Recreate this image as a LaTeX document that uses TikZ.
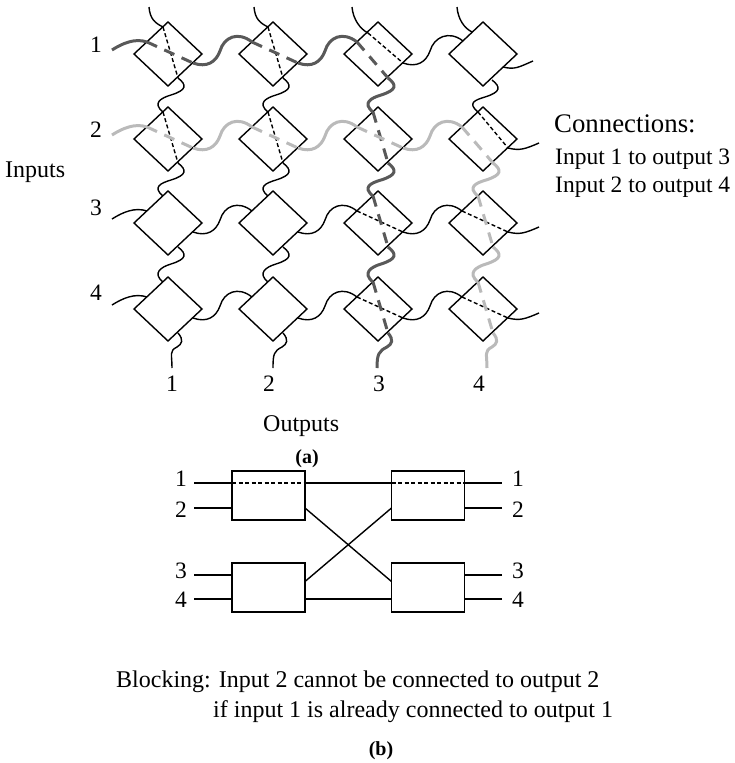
\documentclass[tikz,border=0pt]{standalone}
\usepackage{fontspec}
\setmainfont{Liberation Serif}
\usetikzlibrary{calc,shapes.geometric}

\newcommand{\hwire}[3]{\draw[#1] (#2) .. controls +(14,5) and +(-4,11) .. ($(#2)+(27,-12)$) .. controls +(4,-14) and +(-14,-11) .. (#3);}
\newcommand{\vwire}[3]{\draw[#1] (#2) .. controls +(9,7) and +(16,-5) .. ($(#2)+(-7,17)$) .. controls +(-10,3) and +(-11,-9) .. (#3);}
\newcommand{\leadwire}[3]{\draw[#1] (#2) .. controls +(11,-7) and +(-12,-4) .. (#3);}
\newcommand{\tailwire}[3]{\draw[#1] (#2) .. controls +(12,3) and +(-14,6) .. (#3);}
\newcommand{\capwire}[2]{\draw[wirethin] (#1) .. controls +(1,12) and +(-8,-4) .. (#2);}
\newcommand{\footwire}[3]{\draw[#1] (#2) .. controls +(6,7) and +(5,-3) .. ($(#2)+(-1,14)$) .. controls +(-8,4) and +(0,-14) .. (#3);}

\tikzset{
  switchbox/.style={draw,diamond,aspect=1.06,minimum width=68pt,minimum height=64pt,inner sep=0pt,outer sep=0pt,line width=1.4pt},
  stagebox/.style={draw,rectangle,minimum width=73pt,minimum height=49pt,inner sep=0pt,outer sep=0pt,line width=1.4pt},
  wirethin/.style={line width=1.4pt,black},
  wiredark/.style={line width=3pt,black!65},
  wirelight/.style={line width=3pt,black!27},
  thindash/.style={line width=1.4pt,black,dash pattern=on 4pt off 2.5pt},
  darkdash/.style={wiredark,dash pattern=on 11pt off 8pt},
  lightdash/.style={wirelight,dash pattern=on 11pt off 8pt},
  lab/.style={font=\fontsize{23.5}{26}\selectfont,inner sep=0pt},
  small/.style={font=\fontsize{24}{26}\selectfont,inner sep=0pt,anchor=base west},
  capt/.style={font=\fontsize{20}{22}\selectfont\bfseries,inner sep=0pt,anchor=base}
}

\begin{document}
\begin{tikzpicture}[x=1pt,y=-1pt]
  \useasboundingbox (0,0) rectangle (735,763);

  % switch grid
  \foreach \r/\ypos in {1/54,2/139,3/223,4/309}
    \foreach \c/\xpos in {1/168,2/273,3/378,4/483} {
      \node[switchbox] (s\r\c) at (\xpos,\ypos) {};
      \coordinate (in\r\c) at ($(s\r\c)+(-21,-12)$);
      \coordinate (out\r\c) at ($(s\r\c)+(25,9)$);
      \coordinate (top\r\c) at ($(s\r\c)+(-5,-27)$);
      \coordinate (bot\r\c) at ($(s\r\c)+(10,24)$);
    }
  \coordinate (in14) at ($(s14)+(-20,-13)$);
  \coordinate (out14) at ($(s14)+(20,13)$);
  \coordinate (top13) at ($(s13)+(-10,-21)$);
  \coordinate (top14) at ($(s14)+(-11,-22)$);
  \coordinate (bot14) at ($(s14)+(9,26)$);

  % free ends
  \foreach \r in {1,2,3,4} {
    \coordinate (lead\r) at ($(s\r1)+(-56,-4)$);
    \coordinate (tail\r) at ($(s\r4)+(56,4)$);
  }
  \coordinate (tail1) at ($(s14)+(50,7)$);
  \coordinate (cap1) at ($(s11)+(-19,-47)$);
  \coordinate (cap2) at ($(s12)+(-19,-47)$);
  \coordinate (cap3) at ($(s13)+(-26,-47)$);
  \coordinate (cap4) at ($(s14)+(-26,-47)$);
  \coordinate (foot1) at ($(s41)+(4,59)$);
  \coordinate (foot2) at ($(s42)+(0,59)$);
  \coordinate (foot3) at ($(s43)+(-1,59)$);
  \coordinate (foot4) at ($(s44)+(4,59)$);

  \foreach \c in {1,2,3,4} {
    \capwire{cap\c}{top1\c}
  }

  % horizontal links
  \leadwire{wiredark}{lead1}{in11}
  \leadwire{wirelight}{lead2}{in21}
  \leadwire{wirethin}{lead3}{in31}
  \leadwire{wirethin}{lead4}{in41}
  \hwire{wiredark}{out11}{in12}
  \hwire{wiredark}{out12}{in13}
  \hwire{wirethin}{out13}{in14}
  \hwire{wirelight}{out21}{in22}
  \hwire{wirelight}{out22}{in23}
  \hwire{wirelight}{out23}{in24}
  \foreach \r in {3,4} {
    \hwire{wirethin}{out\r1}{in\r2}
    \hwire{wirethin}{out\r2}{in\r3}
    \hwire{wirethin}{out\r3}{in\r4}
  }
  \foreach \r in {1,2,3,4} {
    \tailwire{wirethin}{out\r4}{tail\r}
  }

  % vertical links
  \foreach \c in {1,2} {
    \vwire{wirethin}{bot1\c}{top2\c}
    \vwire{wirethin}{bot2\c}{top3\c}
    \vwire{wirethin}{bot3\c}{top4\c}
    \footwire{wirethin}{bot4\c}{foot\c}
  }
  \vwire{wiredark}{bot13}{top23}
  \vwire{wiredark}{bot23}{top33}
  \vwire{wiredark}{bot33}{top43}
  \footwire{wiredark}{bot43}{foot3}
  \vwire{wirethin}{bot14}{top24}
  \vwire{wirelight}{bot24}{top34}
  \vwire{wirelight}{bot34}{top44}
  \footwire{wirelight}{bot44}{foot4}

  % paths inside the switches
  \foreach \c in {1,2} {
    \draw[thindash] (top1\c) -- (bot1\c);
    \draw[thindash] (top2\c) -- (bot2\c);
    \draw[darkdash] (in1\c) -- (out1\c);
    \draw[lightdash] (in2\c) -- (out2\c);
  }
  \draw[thindash] (top13) -- (out13);
  \draw[darkdash] (in13) -- (bot13);
  \draw[darkdash] (top23) -- (bot23);
  \draw[lightdash] (in23) -- (out23);
  \draw[thindash] (top24) -- (out24);
  \draw[lightdash] (in24) -- (bot24);
  \foreach \r in {3,4} {
    \draw[thindash] (in\r3) -- (out\r3);
    \draw[thindash] (in\r4) -- (out\r4);
    \draw[darkdash] (top\r3) -- (bot\r3);
    \draw[lightdash] (top\r4) -- (bot\r4);
  }

  % labels of (a)
  \node[lab] (i1) at (96,45) {1};
  \node[lab] (i2) at (96,130) {2};
  \node[lab] (i3) at (96,208) {3};
  \node[lab] (i4) at (96,293) {4};
  \node[lab] (o1) at (172,384) {1};
  \node[lab] (o2) at (269,384) {2};
  \node[lab] (o3) at (379,384) {3};
  \node[lab] (o4) at (479,384) {4};
  \node[small] (inputs) at (5,177) {Inputs};
  \node[small] (outputs) at (263,431) {Outputs};
  \node[capt] (capa) at (307,463) {(a)};
  \node[small,font=\fontsize{26.8}{28}\selectfont] (conn) at (554,132) {Connections:};
  \node[small,font=\fontsize{23.5}{26}\selectfont] (conn1) at (555,164) {Input 1 to output 3};
  \node[small,font=\fontsize{23.5}{26}\selectfont] (conn2) at (555,192) {Input 2 to output 4};

  % blocking network
  \node[stagebox] (b1) at (268.5,495.5) {};
  \node[stagebox] (b2) at (268.5,587.5) {};
  \node[stagebox] (b3) at (428,495.5) {};
  \node[stagebox] (b4) at (428,587.5) {};
  \node[lab] (l1) at (181,479) {1};
  \node[lab] (l2) at (181,510) {2};
  \node[lab] (l3) at (181,571) {3};
  \node[lab] (l4) at (181,600) {4};
  \node[lab] (r1) at (518,479) {1};
  \node[lab] (r2) at (518,510) {2};
  \node[lab] (r3) at (518,571) {3};
  \node[lab] (r4) at (518,600) {4};
  \coordinate (p1) at (194,483);
  \coordinate (p2) at (194,508);
  \coordinate (p3) at (194,575);
  \coordinate (p4) at (194,599);
  \coordinate (q1) at (502,483);
  \coordinate (q2) at (502,508);
  \coordinate (q3) at (502,575);
  \coordinate (q4) at (502,599);
  \draw[wirethin] (p1) -- (p1 -| b1.west);
  \draw[thindash] (p1 -| b1.west) -- (p1 -| b1.east);
  \draw[wirethin] (p1 -| b1.east) -- (p1 -| b3.west);
  \draw[thindash] (p1 -| b3.west) -- (p1 -| b3.east);
  \draw[wirethin] (p1 -| b3.east) -- (q1);
  \draw[wirethin] (p2) -- (p2 -| b1.west);
  \draw[wirethin] (p3) -- (p3 -| b2.west);
  \draw[wirethin] (p4) -- (p4 -| b2.west);
  \draw[wirethin] (p4 -| b2.east) -- (p4 -| b4.west);
  \draw[wirethin] (q2) -- (q2 -| b3.east);
  \draw[wirethin] (q3) -- (q3 -| b4.east);
  \draw[wirethin] (q4) -- (q4 -| b4.east);
  \draw[wirethin] (b1.east |- p2) -- ($(b4.west)+(0,-6)$);
  \draw[wirethin] ($(b2.east)+(0,-6)$) -- (b3.west |- p2);

  \node[small] (block1) at (116,687) {Blocking: Input 2 cannot be connected to output 2};
  \node[small] (block2) at (213,717) {if input 1 is already connected to output 1};
  \node[capt] (capb) at (381,755) {(b)};
\end{tikzpicture}
\end{document}
